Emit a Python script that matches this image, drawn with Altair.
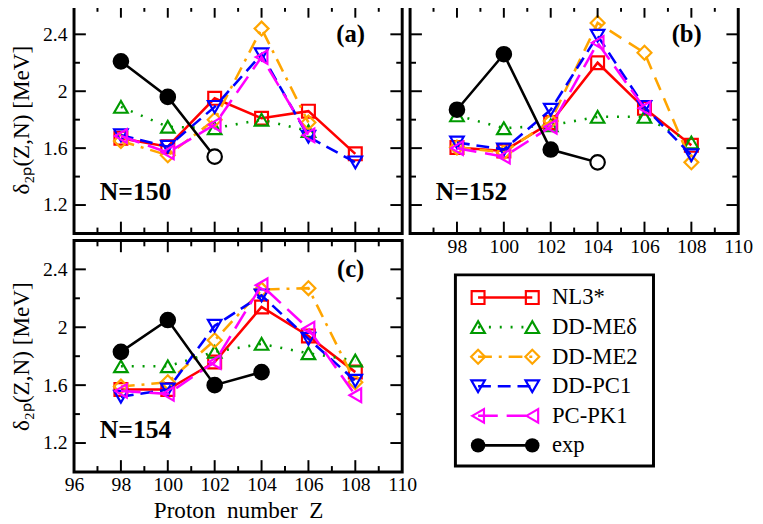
import altair as alt
import pandas as pd

# ---------------- data ----------------
Z = [98, 100, 102, 104, 106, 108]
SERIES = ["NL3*", "DD-MEδ", "DD-ME2", "DD-PC1", "PC-PK1", "exp"]

# panel (a) N=150
A_NL3 = [1.67, 1.61, 1.95, 1.81, 1.86, 1.56]
A_DDMED = [1.89, 1.75, 1.74, 1.80, 1.72, None]
A_DDME2 = [1.65, 1.55, 1.80, 2.44, 1.78, None]
A_DDPC1 = [1.69, 1.61, 1.89, 2.26, 1.68, 1.50]
A_PCPK1 = [1.685, 1.57, 1.765, 2.24, 1.69, None]
A_EXP = [2.21, 1.96, 1.54, None, None, None]
A_EXP_OPEN = [False, False, True, False, False, False]

# panel (b) N=152
B_NL3 = [1.605, 1.58, 1.78, 2.20, 1.88, 1.62]
B_DDMED = [1.83, 1.74, 1.76, 1.82, 1.82, 1.64]
B_DDME2 = [1.605, 1.57, 1.79, 2.48, 2.27, 1.50]
B_DDPC1 = [1.64, 1.59, 1.87, 2.39, 1.89, 1.55]
B_PCPK1 = [1.60, 1.54, 1.75, 2.34, 1.88, None]
B_EXP = [1.87, 2.26, 1.59, 1.50, None, None]
B_EXP_OPEN = [False, False, False, True, False, False]

# panel (c) N=154
C_NL3 = [1.57, 1.57, 1.76, 2.14, 1.94, 1.69]
C_DDMED = [1.73, 1.73, 1.83, 1.885, 1.82, 1.77]
C_DDME2 = [1.59, 1.62, 1.91, 2.26, 2.27, 1.62]
C_DDPC1 = [1.52, 1.57, 2.01, 2.22, 1.92, 1.63]
C_PCPK1 = [1.56, 1.54, 1.76, 2.29, 1.99, 1.53]
C_EXP = [1.83, 2.05, 1.60, 1.69, None, None]
C_EXP_OPEN = [False, False, False, False, False, False]

PANEL_LABELS = ["(a)", "(b)", "(c)"]
N_LABELS = ["N=150", "N=152", "N=154"]

X_MAJOR = [98, 100, 102, 104, 106, 108]
X_MINOR = [97, 99, 101, 103, 105, 107, 109]
Y_MAJOR = [1.2, 1.6, 2.0, 2.4]
Y_MINOR = [1.4, 1.8, 2.2]
X_LABELS_B = [98, 100, 102, 104, 106, 108, 110]
X_LABELS_C = [96, 98, 100, 102, 104, 106, 108, 110]
Y_LABELS = [1.2, 1.6, 2.0, 2.4]

# ---------------- style ----------------
FONT = "Liberation Serif"
STYLE = {
    "NL3*": dict(color="#ff0000", dash=None, shape="square", size=170),
    "DD-MEδ": dict(color="#009a00", dash=[2, 9], shape="triangle-up", size=190),
    "DD-ME2": dict(color="#ffa500", dash=[14, 7, 3, 7], shape="diamond", size=200),
    "DD-PC1": dict(color="#0000ff", dash=[13, 7], shape="triangle-down", size=190),
    "PC-PK1": dict(color="#ff00ff", dash=[20, 9], shape="triangle-left", size=190),
    "exp": dict(color="#000000", dash=None, shape="circle", size=215),
}
DASH_OVERRIDE = {(1, "DD-ME2"): [14, 9]}
W, H_TOP, H_BOT = 333, 231, 235
LW = 2.6

XS = alt.Scale(domain=[96, 110], nice=False, zero=False)
YS = alt.Scale(domain=[1.0, 2.6], nice=False, zero=False)


def build_df(vals, opens):
    rows = []
    for s, v in zip(SERIES, vals):
        for i, (z, y) in enumerate(zip(Z, v)):
            if y is not None:
                rows.append({"series": s, "Z": z, "value": y,
                             "open": bool(opens[i]) if s == "exp" else False})
    return pd.DataFrame(rows)


DATA = [
    build_df([A_NL3, A_DDMED, A_DDME2, A_DDPC1, A_PCPK1, A_EXP], A_EXP_OPEN),
    build_df([B_NL3, B_DDMED, B_DDME2, B_DDPC1, B_PCPK1, B_EXP], B_EXP_OPEN),
    build_df([C_NL3, C_DDMED, C_DDME2, C_DDPC1, C_PCPK1, C_EXP], C_EXP_OPEN),
]


def panel(idx, xlabels, xtitle, ylabels, height):
    df = DATA[idx]
    if xlabels is None:
        xax = None
    else:
        kw = dict(values=xlabels, ticks=False, domain=False, grid=False,
                  labelFont=FONT, labelFontSize=20, labelColor="black",
                  labelPadding=3, labelFlush=False, labelOverlap=False)
        if xtitle:
            kw.update(title=xtitle, titleFont=FONT, titleFontSize=23.5,
                      titleFontWeight="normal", titleColor="black", titlePadding=4)
        else:
            kw.update(title="")
        xax = alt.Axis(**kw)
    if ylabels is None:
        yax = None
    else:
        yax = alt.Axis(values=ylabels, ticks=False, domain=False, grid=False,
                       labelFont=FONT, labelFontSize=20, labelColor="black",
                       labelPadding=7, labelExpr="'' + datum.value",
                       title="δ₂ₚ(Z,N) [MeV]",
                       titleFont=FONT, titleFontSize=23.5, titleFontWeight="normal",
                       titleColor="black", titlePadding=9)

    def X(f):
        return alt.X(f, type="quantitative", scale=XS, axis=xax)

    def Y(f):
        return alt.Y(f, type="quantitative", scale=YS, axis=yax)

    layers = []
    for s in SERIES:
        st = STYLE[s]
        sub = df[df.series == s]
        lkw = dict(color=st["color"], strokeWidth=LW)
        dash = DASH_OVERRIDE.get((idx, s), st["dash"])
        if dash:
            lkw["strokeDash"] = dash
        layers.append(alt.Chart(sub).mark_line(**lkw).encode(x=X("Z"), y=Y("value")))
        if s == "exp":
            layers.append(alt.Chart(sub).mark_point(
                shape="circle", size=st["size"], filled=True, stroke="black",
                strokeWidth=2.2, opacity=1).encode(
                x=X("Z"), y=Y("value"),
                fill=alt.condition("datum.open", alt.value("white"), alt.value("black"))))
        else:
            layers.append(alt.Chart(sub).mark_point(
                shape=st["shape"], size=st["size"], filled=False, color=st["color"],
                strokeWidth=2.2, opacity=1).encode(x=X("Z"), y=Y("value")))

    # inward ticks on all four sides
    xmaj = pd.DataFrame({"Z": X_MAJOR})
    xmin = pd.DataFrame({"Z": X_MINOR})
    ymaj = pd.DataFrame({"value": Y_MAJOR})
    ymin = pd.DataFrame({"value": Y_MINOR})
    for d, ln in ((xmaj, 12), (xmin, 6)):
        layers.append(alt.Chart(d).mark_rule(color="black", strokeWidth=2).encode(
            x=X("Z"), y=alt.value(height), y2=alt.value(height - ln)))
        layers.append(alt.Chart(d).mark_rule(color="black", strokeWidth=2).encode(
            x=X("Z"), y=alt.value(0), y2=alt.value(ln)))
    for d, ln in ((ymaj, 12), (ymin, 6)):
        layers.append(alt.Chart(d).mark_rule(color="black", strokeWidth=2).encode(
            y=Y("value"), x=alt.value(0), x2=alt.value(ln)))
        layers.append(alt.Chart(d).mark_rule(color="black", strokeWidth=2).encode(
            y=Y("value"), x=alt.value(W), x2=alt.value(W - ln)))

    lab = pd.DataFrame({"Z": [107.8], "value": [2.40], "t": [PANEL_LABELS[idx]]})
    layers.append(alt.Chart(lab).mark_text(font=FONT, fontSize=25, fontWeight="bold",
                                           color="black", align="center",
                                           baseline="middle").encode(
        x=X("Z"), y=Y("value"), text="t:N"))
    nl = pd.DataFrame({"Z": [97.1], "value": [1.29], "t": [N_LABELS[idx]]})
    layers.append(alt.Chart(nl).mark_text(font=FONT, fontSize=26, fontWeight="bold",
                                          color="black", align="left",
                                          baseline="middle").encode(
        x=X("Z"), y=Y("value"), text="t:N"))

    return alt.layer(*layers).properties(width=W, height=height)


pa = panel(0, None, None, Y_LABELS, H_TOP)
pb = panel(1, X_LABELS_B, None, None, H_TOP)
pc = panel(2, X_LABELS_C, "Proton\u00a0\u00a0number\u00a0\u00a0Z", Y_LABELS, H_BOT)

# ---------------- legend box (in its own cell, pixel-like units) ----------------
LEG_CELL_W, LEG_CELL_H = W, H_BOT
LEG_BOX = dict(x0=46, x1=247, y0=35, y1=229)
LEG_ROW0, LEG_ROW_STEP = 58, 30
LEG_LX0, LEG_LX1, LEG_TX = 69, 124, 144
LXS = alt.Scale(domain=[0, LEG_CELL_W], nice=False, zero=False)
LYS = alt.Scale(domain=[LEG_CELL_H, 0], nice=False, zero=False)


def LX(f):
    return alt.X(f, type="quantitative", scale=LXS, axis=None)


def LY(f):
    return alt.Y(f, type="quantitative", scale=LYS, axis=None)


leg_layers = []
box = pd.DataFrame([LEG_BOX])
leg_layers.append(alt.Chart(box).mark_rect(fillOpacity=0, stroke="black",
                                           strokeWidth=3).encode(
    x=LX("x0"), x2="x1", y=LY("y0"), y2="y1"))
for i, s in enumerate(SERIES):
    st = STYLE[s]
    yy = LEG_ROW0 + LEG_ROW_STEP * i
    seg = pd.DataFrame({"x": [LEG_LX0, LEG_LX1], "y": [yy, yy]})
    lkw = dict(color=st["color"], strokeWidth=LW)
    if st["dash"]:
        lkw["strokeDash"] = st["dash"]
    leg_layers.append(alt.Chart(seg).mark_line(**lkw).encode(x=LX("x"), y=LY("y")))
    if s == "exp":
        pm = alt.Chart(seg).mark_point(shape="circle", size=st["size"], filled=True,
                                       color="black", opacity=1)
    else:
        pm = alt.Chart(seg).mark_point(shape=st["shape"], size=st["size"], filled=False,
                                       color=st["color"], strokeWidth=2.2, opacity=1)
    leg_layers.append(pm.encode(x=LX("x"), y=LY("y")))
txt = pd.DataFrame({"x": [LEG_TX] * 6,
                    "y": [LEG_ROW0 + LEG_ROW_STEP * i for i in range(6)],
                    "t": SERIES})
leg_layers.append(alt.Chart(txt).mark_text(font=FONT, fontSize=23, color="black",
                                           align="left", baseline="middle").encode(
    x=LX("x"), y=LY("y"), text="t:N"))
legend = alt.layer(*leg_layers).properties(
    width=LEG_CELL_W, height=LEG_CELL_H,
    view=alt.ViewBackground(stroke="transparent"))

chart = alt.concat(pa, pb, pc, legend, columns=2, bounds="flush",
                   spacing={"row": 7, "column": 8}).properties(
    padding={"left": 0, "top": -9, "right": 0, "bottom": 0},
    background="white"
).configure_view(stroke="black", strokeWidth=3)

chart.save("out.html", embed_options={"renderer": "svg", "actions": False})
